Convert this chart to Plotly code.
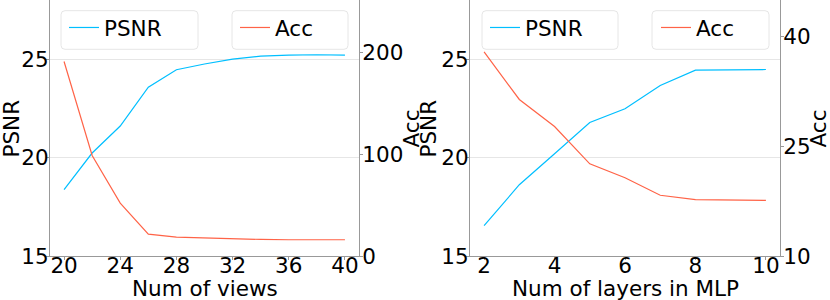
import plotly.graph_objects as go

# ---- data ----
views = [20, 22, 24, 26, 28, 30, 32, 34, 36, 38, 40]
psnr_views = [18.37, 20.23, 21.6, 23.57, 24.46, 24.75, 25.0, 25.15, 25.2, 25.22, 25.2]
acc_views = [191.5, 99.0, 52.0, 21.6, 18.6, 17.6, 16.7, 16.3, 16.0, 16.0, 16.0]

layers = [2, 3, 4, 5, 6, 7, 8, 9, 10]
psnr_layers = [16.54, 18.62, 20.19, 21.78, 22.48, 23.66, 24.44, 24.46, 24.47]
acc_layers = [37.9, 31.4, 27.7, 22.6, 20.7, 18.3, 17.7, 17.65, 17.6]

views_ticks = [20, 24, 28, 32, 36, 40]
layers_ticks = [2, 4, 6, 8, 10]
psnr_ticks = [15, 20, 25]
acc_views_ticks = [0, 100, 200]
acc_layers_ticks = [10, 25, 40]

x_titles = ["Num of views", "Num of layers in MLP"]
y_titles = ["PSNR", "Acc"]

PSNR_COLOR = "#00BFFF"
ACC_COLOR = "#FF6347"
FONT = "DejaVu Sans"
FS = 21.5
SPINE = "#999999"
GRID = "#E6E6E6"
LEG_BORDER = "#E6E6E6"

W, H = 830, 300
B = 44
PH = H - B

fig = go.Figure()
fig.add_trace(go.Scatter(x=views, y=psnr_views, mode="lines", name="PSNR",
                         line=dict(color=PSNR_COLOR, width=1.2), xaxis="x", yaxis="y", legend="legend"))
fig.add_trace(go.Scatter(x=views, y=acc_views, mode="lines", name="Acc",
                         line=dict(color=ACC_COLOR, width=1.2), xaxis="x", yaxis="y2", legend="legend2"))
fig.add_trace(go.Scatter(x=layers, y=psnr_layers, mode="lines", name="PSNR",
                         line=dict(color=PSNR_COLOR, width=1.2), xaxis="x2", yaxis="y3", legend="legend3"))
fig.add_trace(go.Scatter(x=layers, y=acc_layers, mode="lines", name="Acc",
                         line=dict(color=ACC_COLOR, width=1.2), xaxis="x2", yaxis="y4", legend="legend4"))

def xax(domain, rng, ticks, anchor):
    return dict(domain=domain, range=rng, tickvals=ticks, anchor=anchor,
                showgrid=False, zeroline=False, showline=True, linecolor=SPINE, linewidth=1,
                mirror=True, ticks="outside", ticklen=3, tickcolor=SPINE,
                ticklabelstandoff=-13,
                tickfont=dict(family=FONT, size=FS, color="black"),
                automargin=False)

def yax(rng, ticks, anchor, side="left", overlaying=None, grid=False, lso=-3):
    d = dict(range=rng, tickvals=ticks, anchor=anchor, side=side,
             showgrid=grid, gridcolor=GRID, gridwidth=1, zeroline=False,
             showline=True, linecolor=SPINE, linewidth=1,
             ticks="outside", ticklen=3, tickcolor=SPINE,
             ticklabelstandoff=lso,
             tickfont=dict(family=FONT, size=FS, color="black"),
             automargin=False)
    if overlaying:
        d["overlaying"] = overlaying
    return d

d1 = [50 / W, 359 / W]
d2 = [470 / W, 780 / W]

legend_common = dict(font=dict(family=FONT, size=FS, color="black"),
                     borderwidth=0, bgcolor="rgba(0,0,0,0)",
                     yanchor="top", xanchor="left")

# legend frames (rounded boxes) in pixel positions -> paper coords
def box(x0, x1, y0, y1, r=4):
    X0, X1 = x0 / W, x1 / W
    Y0, Y1 = 1 - y1 / PH, 1 - y0 / PH
    rx, ry = r / W, r / PH
    path = (f"M {X0+rx},{Y1} L {X1-rx},{Y1} Q {X1},{Y1} {X1},{Y1-ry} "
            f"L {X1},{Y0+ry} Q {X1},{Y0} {X1-rx},{Y0} L {X0+rx},{Y0} "
            f"Q {X0},{Y0} {X0},{Y0+ry} L {X0},{Y1-ry} Q {X0},{Y1} {X0+rx},{Y1} Z")
    return dict(type="path", xref="paper", yref="paper", path=path,
                line=dict(color=LEG_BORDER, width=1), fillcolor="rgba(255,255,255,0.8)",
                layer="above")

shapes = [box(61, 198, 10.7, 49.3), box(232, 348, 10.7, 49.3),
          box(482, 618, 10.7, 49.3), box(652, 769, 10.7, 49.3)]

def txt(text, xpx, ypx, angle=0):
    return dict(text=text, xref="paper", yref="paper", x=xpx / W, y=1 - ypx / PH,
                xanchor="center", yanchor="middle", showarrow=False, textangle=angle,
                font=dict(family=FONT, size=FS, color="black"))

annotations = [
    txt(x_titles[0], (50 + 359) / 2, 288),
    txt(x_titles[1], (470 + 780) / 2, 288),
    txt(y_titles[0], 11, 128.5, -90),
    txt(y_titles[1], 411, 128.5, -90),
    txt(y_titles[0], 428, 128.5, -90),
    txt(y_titles[1], 818, 128.5, -90),
]

fig.update_layout(
    width=W, height=H,
    margin=dict(l=0, r=0, t=0, b=B, pad=0),
    plot_bgcolor="white", paper_bgcolor="white",
    showlegend=True,
    xaxis=xax(d1, [19, 41], views_ticks, "y"),
    yaxis=yax([15, 28], psnr_ticks, "x", grid=True, lso=-7),
    yaxis2=yax([0, 252], acc_views_ticks, "x", side="right", overlaying="y", lso=-5),
    xaxis2=xax(d2, [1.6, 10.4], layers_ticks, "y3"),
    yaxis3=yax([15, 28], psnr_ticks, "x2", grid=True, lso=-7),
    yaxis4=yax([10, 45], acc_layers_ticks, "x2", side="right", overlaying="y3", lso=-5),
    legend=dict(x=64 / W, y=1 - 7 / PH, **legend_common),
    legend2=dict(x=235 / W, y=1 - 7 / PH, **legend_common),
    legend3=dict(x=485 / W, y=1 - 7 / PH, **legend_common),
    legend4=dict(x=656 / W, y=1 - 7 / PH, **legend_common),
    shapes=shapes,
    annotations=annotations,
)

fig.write_html("out.html", config={"displayModeBar": False},
               post_script="document.body.style.margin='0';document.body.style.padding='0';")
